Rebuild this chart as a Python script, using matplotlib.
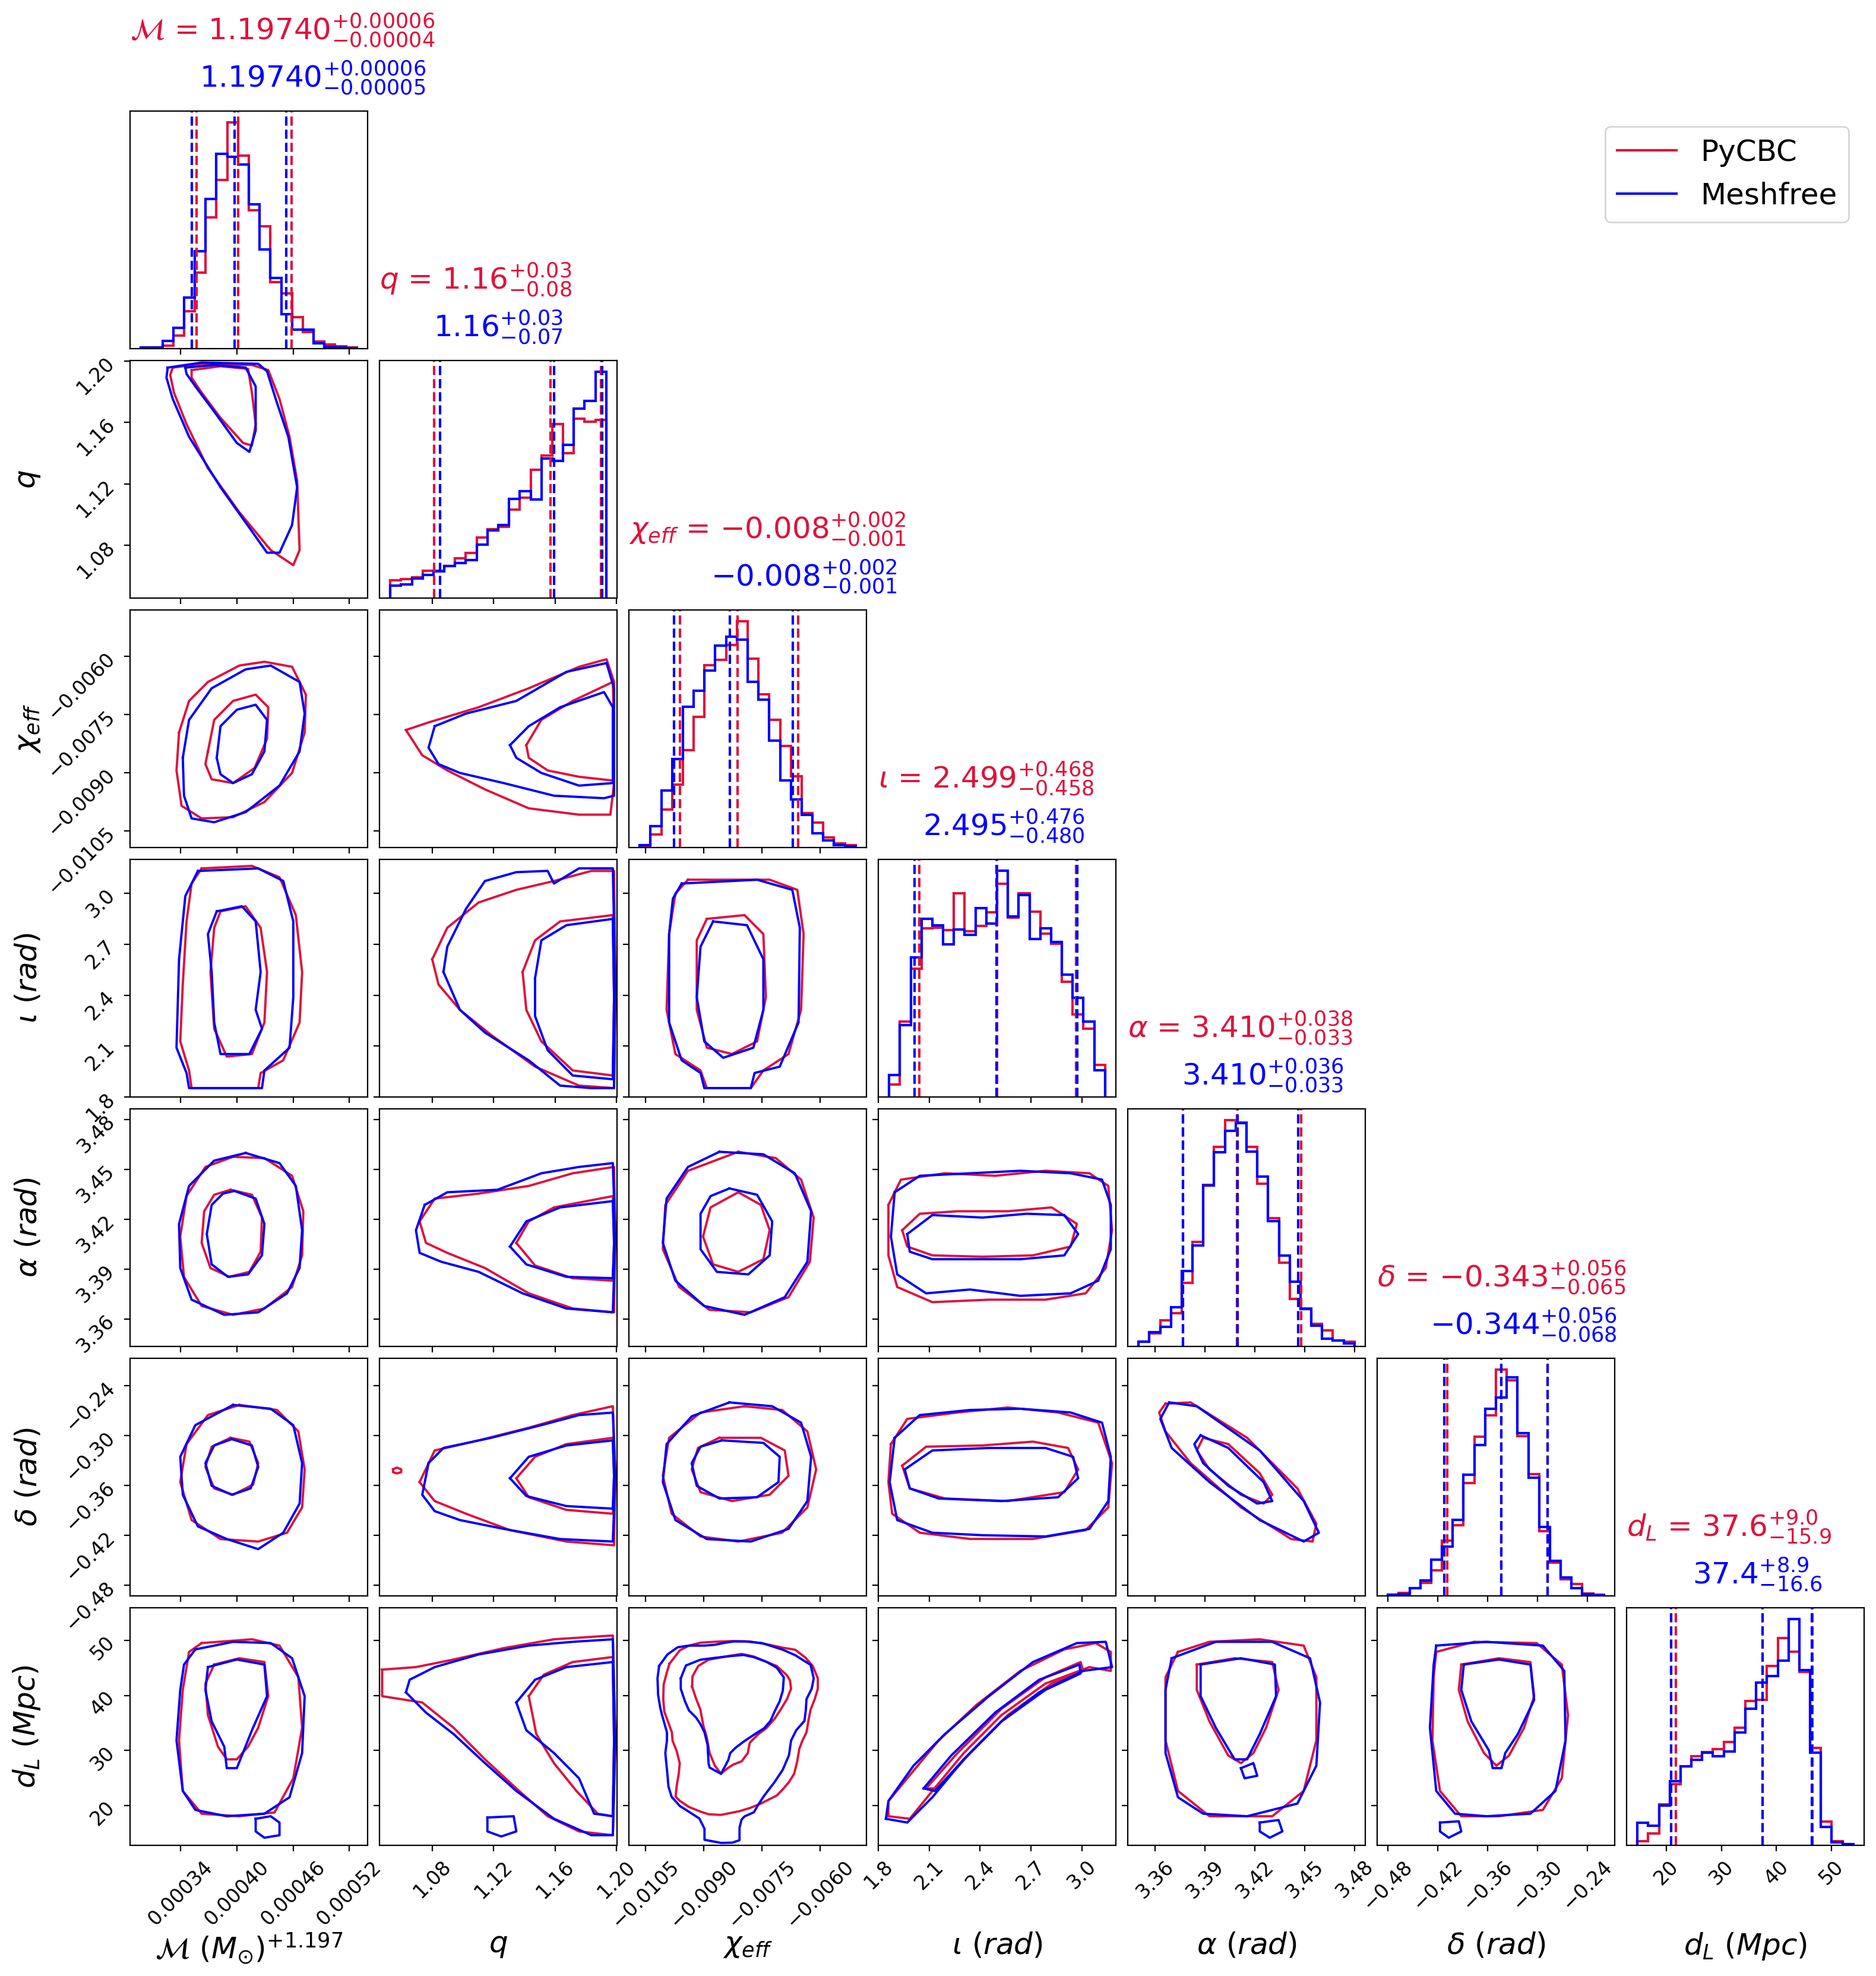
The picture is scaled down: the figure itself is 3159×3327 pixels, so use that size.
import numpy as np
import matplotlib
matplotlib.use("Agg")
import matplotlib.pyplot as plt
from matplotlib.lines import Line2D
from matplotlib.ticker import FixedLocator, FixedFormatter, NullLocator

plt.rcParams['font.family'] = ['DejaVu Sans']
plt.rcParams['mathtext.fontset'] = 'dejavusans'

RED = '#DC143C'
BLUE = '#0000FF'

# ---------------- data ----------------
# chirp mass stored as offset from 1.197 in units of 1e-6 Msun, chi_eff in units of 1e-4
params = ['mc', 'q', 'chi', 'iota', 'alpha', 'delta', 'dl']

range_mc = (297.7, 527.9)
range_q = (1.0527, 1.1932)
range_chi = (-106.56, -50.77)
range_iota = (1.8635, 3.1365)
range_alpha = (3.3501, 3.4798)
range_delta = (-0.4796, -0.2202)
range_dl = (14.69, 53.98)

ticks_mc = [340, 400, 460, 520]
ticklabels_mc = ['0.00034', '0.00040', '0.00046', '0.00052']
ticks_q = [1.08, 1.12, 1.16, 1.20]
ticklabels_q = ['1.08', '1.12', '1.16', '1.20']
ticks_chi = [-105, -90, -75, -60]
ticklabels_chi = ['\u22120.0105', '\u22120.0090', '\u22120.0075', '\u22120.0060']
ticks_iota = [1.8, 2.1, 2.4, 2.7, 3.0]
ticklabels_iota = ['1.8', '2.1', '2.4', '2.7', '3.0']
ticks_alpha = [3.36, 3.39, 3.42, 3.45, 3.48]
ticklabels_alpha = ['3.36', '3.39', '3.42', '3.45', '3.48']
ticks_delta = [-0.48, -0.42, -0.36, -0.30, -0.24]
ticklabels_delta = ['\u22120.48', '\u22120.42', '\u22120.36', '\u22120.30', '\u22120.24']
ticks_dl = [20, 30, 40, 50]
ticklabels_dl = ['20', '30', '40', '50']

axis_labels = [r'$\mathcal{M}\ (M_{\odot})^{+1.197}$', r'$q$', r'$\chi_{eff}$',
               r'$\iota\ (rad)$', r'$\alpha\ (rad)$', r'$\delta\ (rad)$', r'$d_L\ (Mpc)$']

titles_pycbc = [r'$\mathcal{M}$ = $1.19740^{+0.00006}_{-0.00004}$',
                r'$q$ = $1.16^{+0.03}_{-0.08}$',
                r'$\chi_{eff}$ = $-0.008^{+0.002}_{-0.001}$',
                r'$\iota$ = $2.499^{+0.468}_{-0.458}$',
                r'$\alpha$ = $3.410^{+0.038}_{-0.033}$',
                r'$\delta$ = $-0.343^{+0.056}_{-0.065}$',
                r'$d_L$ = $37.6^{+9.0}_{-15.9}$']
titles_meshfree = [r'$1.19740^{+0.00006}_{-0.00005}$',
                   r'$1.16^{+0.03}_{-0.07}$',
                   r'$-0.008^{+0.002}_{-0.001}$',
                   r'$2.495^{+0.476}_{-0.480}$',
                   r'$3.410^{+0.036}_{-0.033}$',
                   r'$-0.344^{+0.056}_{-0.068}$',
                   r'$37.4^{+8.9}_{-16.6}$']

# 1D histograms (20 bins over the sample range), relative heights
hist_mc_pycbc = [4, 4, 12, 57, 164, 335, 577, 742, 994, 847, 607, 537, 292, 242, 137, 72, 32, 17, 10, 4]
hist_mc_meshfree = [4, 4, 35, 92, 225, 427, 657, 855, 842, 810, 634, 437, 310, 152, 84, 84, 24, 7, 4, 2]
hist_q_pycbc = [77, 84, 92, 119, 119, 142, 174, 197, 267, 302, 314, 389, 442, 564, 627, 764, 637, 787, 775, 782]
hist_q_meshfree = [54, 60, 87, 102, 117, 142, 154, 167, 235, 297, 322, 435, 470, 432, 614, 602, 674, 832, 867, 994]
hist_chi_pycbc = [4, 57, 167, 277, 427, 574, 800, 824, 890, 994, 829, 674, 562, 447, 314, 152, 110, 44, 17, 10]
hist_chi_meshfree = [10, 95, 250, 390, 619, 690, 777, 887, 927, 914, 729, 649, 470, 295, 212, 144, 62, 32, 10, 4]
hist_iota_pycbc = [54, 332, 564, 742, 744, 732, 895, 727, 752, 812, 937, 787, 895, 814, 717, 674, 507, 362, 300, 142]
hist_iota_meshfree = [97, 317, 614, 782, 754, 670, 737, 712, 830, 762, 994, 794, 887, 694, 742, 682, 537, 437, 332, 117]
hist_alpha_pycbc = [20, 57, 114, 147, 279, 460, 709, 877, 994, 984, 877, 714, 564, 367, 210, 167, 100, 70, 27, 20]
hist_alpha_meshfree = [20, 62, 87, 172, 332, 444, 707, 852, 947, 980, 855, 747, 550, 399, 284, 165, 92, 35, 27, 12]
hist_delta_pycbc = [4, 14, 35, 57, 112, 242, 310, 497, 699, 794, 994, 947, 702, 534, 284, 147, 72, 52, 10, 4]
hist_delta_meshfree = [4, 7, 35, 67, 160, 217, 334, 532, 664, 822, 872, 960, 714, 520, 302, 154, 82, 35, 7, 2]
hist_dl_pycbc = [17, 52, 180, 270, 347, 392, 410, 424, 454, 517, 634, 640, 787, 910, 850, 762, 427, 104, 17, 4]
hist_dl_meshfree = [100, 85, 174, 282, 347, 377, 407, 392, 412, 497, 599, 714, 744, 812, 994, 770, 407, 82, 14, 4]

# 16th / 50th / 84th percentiles
quant_mc_pycbc = [356.9, 401.2, 458.6]
quant_mc_meshfree = [352.0, 397.6, 452.9]
quant_q_pycbc = [1.0811, 1.1568, 1.1899]
quant_q_meshfree = [1.0850, 1.1592, 1.1906]
quant_chi_pycbc = [-96.16, -81.32, -65.67]
quant_chi_meshfree = [-97.69, -83.27, -67.05]
quant_iota_pycbc = [2.041, 2.499, 2.967]
quant_iota_meshfree = [2.015, 2.495, 2.971]
quant_alpha_pycbc = [3.3769, 3.4092, 3.4477]
quant_alpha_meshfree = [3.3769, 3.4096, 3.4461]
quant_delta_pycbc = [-0.4082, -0.3435, -0.2876]
quant_delta_meshfree = [-0.4122, -0.3435, -0.2876]
quant_dl_pycbc = [21.66, 37.51, 46.58]
quant_dl_meshfree = [20.83, 37.51, 46.41]

# 2D credible contours (x = column parameter, y = row parameter)
cont_q_mc_pycbc = [
    [(331.7, 1.1956), (362.5, 1.1981), (416.1, 1.1973), (433.5, 1.1940), (445.5, 1.1752), (456.2, 1.1506), (464.3, 1.1219), (465.6, 1.0990), (466.9, 1.0769), (460.2, 1.0671), (436.1, 1.0769), (402.7, 1.1015), (369.2, 1.1301), (346.4, 1.1588), (333.0, 1.1793), (329.0, 1.1908)],
    [(351.8, 1.1940), (382.6, 1.1965), (412.0, 1.1948), (416.1, 1.1793), (420.1, 1.1588), (416.1, 1.1449), (406.7, 1.1466), (382.6, 1.1629), (362.5, 1.1793), (351.8, 1.1891)]]
cont_q_mc_meshfree = [
    [(326.3, 1.1956), (362.5, 1.1989), (422.8, 1.1981), (432.2, 1.1932), (442.8, 1.1727), (454.9, 1.1506), (464.3, 1.1178), (458.9, 1.0932), (445.5, 1.0752), (432.2, 1.0752), (416.1, 1.0891), (382.6, 1.1178), (349.1, 1.1506), (331.7, 1.1752), (325.0, 1.1891)],
    [(345.1, 1.1956), (375.9, 1.1973), (409.4, 1.1956), (420.1, 1.1834), (420.1, 1.1547), (413.4, 1.1408), (400.0, 1.1466), (375.9, 1.1670), (355.8, 1.1834), (346.4, 1.1915)]]

cont_chi_mc_pycbc = [
    [(338.4, -79.64), (349.1, -71.48), (369.2, -66.58), (402.7, -62.34), (429.4, -61.36), (458.9, -62.66), (473.6, -69.85), (472.3, -79.64), (458.9, -90.08), (429.4, -97.59), (396.0, -101.51), (362.5, -101.83), (341.1, -98.57), (335.7, -89.43)],
    [(369.2, -84.53), (375.9, -76.37), (396.0, -71.48), (420.1, -69.85), (433.5, -73.11), (432.2, -81.27), (419.0, -88.78), (396.0, -92.70), (373.2, -91.72), (366.5, -87.80)]]
cont_chi_mc_meshfree = [
    [(342.4, -86.17), (349.1, -76.37), (373.2, -68.21), (409.4, -63.32), (436.1, -62.34), (466.9, -66.58), (472.3, -74.74), (466.9, -84.53), (445.5, -93.34), (409.4, -100.20), (375.9, -102.82), (351.8, -101.83), (343.7, -95.95)],
    [(378.6, -86.17), (382.6, -78.01), (400.0, -73.76), (420.1, -72.46), (432.2, -76.37), (429.4, -84.53), (416.1, -90.41), (396.0, -92.70), (382.6, -90.41)]]

cont_iota_mc_pycbc = [
    [(362.5, 3.147), (416.1, 3.162), (445.5, 3.095), (462.9, 2.872), (469.6, 2.537), (466.9, 2.239), (449.5, 2.016), (425.4, 1.941), (422.8, 1.852), (351.8, 1.852), (349.1, 1.956), (339.7, 2.128), (342.4, 2.463), (346.4, 2.835), (351.8, 3.058)],
    [(382.6, 2.894), (409.4, 2.924), (425.4, 2.797), (432.2, 2.537), (429.4, 2.239), (416.1, 2.053), (389.3, 2.038), (375.9, 2.202), (371.9, 2.537), (375.9, 2.797)]]
cont_iota_mc_meshfree = [
    [(358.5, 3.132), (422.8, 3.147), (449.5, 3.073), (460.2, 2.835), (460.2, 2.388), (456.2, 2.090), (429.4, 1.956), (426.8, 1.852), (349.1, 1.852), (346.4, 1.941), (335.7, 2.090), (338.4, 2.611), (345.1, 2.984)],
    [(378.6, 2.894), (405.4, 2.924), (420.1, 2.835), (425.4, 2.537), (420.1, 2.314), (426.8, 2.202), (413.4, 2.053), (382.6, 2.053), (375.9, 2.239), (373.2, 2.537), (369.2, 2.760)]]

cont_alpha_mc_pycbc = [
    [(396.0, 3.4575), (429.4, 3.4567), (458.9, 3.4461), (470.9, 3.4248), (469.6, 3.3983), (458.9, 3.3793), (429.4, 3.3664), (396.0, 3.3626), (362.5, 3.3679), (343.7, 3.3853), (339.7, 3.4096), (346.4, 3.4339), (366.5, 3.4514)],
    [(393.3, 3.4377), (416.1, 3.4347), (426.8, 3.4210), (425.4, 3.4005), (413.4, 3.3884), (392.0, 3.3854), (371.9, 3.3907), (362.5, 3.4058), (365.2, 3.4248), (375.9, 3.4347)]]
cont_alpha_mc_meshfree = [
    [(409.4, 3.4598), (445.5, 3.4537), (462.9, 3.4400), (469.6, 3.4134), (466.9, 3.3907), (453.5, 3.3755), (422.8, 3.3641), (386.6, 3.3626), (351.8, 3.3717), (339.7, 3.3907), (338.4, 3.4172), (349.1, 3.4400), (375.9, 3.4552)],
    [(397.3, 3.4370), (420.1, 3.4324), (429.4, 3.4172), (426.8, 3.3983), (412.0, 3.3869), (390.6, 3.3854), (373.2, 3.3929), (368.0, 3.4111), (373.2, 3.4286), (385.3, 3.4354)]]

cont_delta_mc_pycbc = [
    [(402.7, -0.2632), (442.8, -0.2693), (465.6, -0.2951), (472.3, -0.3407), (469.6, -0.3863), (453.5, -0.4167), (422.8, -0.4273), (382.6, -0.4243), (351.8, -0.4015), (339.7, -0.3559), (346.4, -0.3103), (369.2, -0.2754)],
    [(393.3, -0.3027), (413.4, -0.3073), (422.8, -0.3331), (417.4, -0.3589), (396.0, -0.3711), (375.9, -0.3635), (366.5, -0.3377), (373.2, -0.3134)]]
cont_delta_mc_meshfree = [
    [(396.0, -0.2632), (436.1, -0.2678), (460.2, -0.2875), (469.6, -0.3331), (466.9, -0.3817), (449.5, -0.4167), (422.8, -0.4364), (389.3, -0.4243), (358.5, -0.4091), (342.4, -0.3711), (339.7, -0.3255), (355.8, -0.2875)],
    [(394.6, -0.3043), (416.1, -0.3119), (422.8, -0.3377), (414.7, -0.3635), (394.6, -0.3711), (373.2, -0.3604), (366.5, -0.3331), (375.9, -0.3119)]]

cont_dl_mc_pycbc = [
    [(362.5, 49.52), (416.1, 50.21), (445.5, 49.06), (465.6, 43.31), (469.6, 34.12), (460.2, 24.92), (440.2, 18.71), (402.7, 18.02), (362.5, 18.48), (342.4, 22.62), (338.4, 31.82), (342.4, 41.01), (349.1, 47.91)],
    [(375.9, 45.61), (402.7, 46.76), (429.4, 46.07), (433.5, 39.86), (422.8, 34.12), (412.0, 30.67), (400.0, 28.37), (389.3, 28.37), (379.9, 30.67), (369.2, 36.42), (366.5, 42.16)]]
cont_dl_mc_meshfree = [
    [(355.8, 48.37), (396.0, 49.75), (436.1, 49.52), (458.9, 46.76), (472.3, 39.86), (469.6, 29.52), (456.2, 21.47), (429.4, 18.48), (389.3, 18.02), (355.8, 19.17), (342.4, 22.62), (335.7, 31.82), (339.7, 41.01), (343.7, 45.61)],
    [(369.2, 45.15), (400.0, 46.53), (429.4, 45.61), (432.2, 39.86), (416.1, 33.66), (405.4, 29.06), (400.0, 26.77), (389.3, 26.77), (386.6, 30.67), (373.2, 35.27), (366.5, 41.01)],
    [(420.1, 17.56), (436.1, 18.02), (445.5, 16.87), (445.5, 14.57), (429.4, 14.11), (420.1, 15.26)]]

cont_chi_q_pycbc = [
    [(1.0629, -78.99), (1.0776, -77.03), (1.1102, -73.11), (1.1428, -68.21), (1.1755, -62.67), (1.1934, -60.71), (1.1983, -66.58), (1.1983, -92.70), (1.1959, -100.86), (1.1755, -100.86), (1.1428, -99.22), (1.1143, -94.33), (1.0898, -89.43), (1.0735, -85.51)],
    [(1.1412, -82.90), (1.1510, -76.37), (1.1714, -71.48), (1.1975, -66.58), (1.1983, -79.64), (1.1975, -92.05), (1.1755, -91.07), (1.1551, -89.43), (1.1428, -86.17)]]
cont_chi_q_meshfree = [
    [(1.0816, -78.01), (1.1020, -74.74), (1.1347, -71.48), (1.1673, -63.97), (1.1934, -61.69), (1.1983, -68.21), (1.1983, -95.96), (1.1918, -96.61), (1.1592, -95.96), (1.1265, -92.70), (1.0980, -90.08), (1.0841, -87.80), (1.0776, -83.56)],
    [(1.1306, -82.90), (1.1428, -78.01), (1.1632, -73.11), (1.1918, -69.19), (1.1975, -73.11), (1.1975, -92.70), (1.1755, -93.35), (1.1510, -90.08), (1.1347, -86.17)]]

cont_iota_q_pycbc = [
    [(1.0800, 2.6114), (1.0898, 2.7975), (1.1102, 2.9464), (1.1347, 3.0208), (1.1592, 3.0729), (1.1836, 3.1325), (1.1983, 3.1325), (1.1991, 2.4625), (1.1983, 1.8521), (1.1755, 1.8670), (1.1469, 1.9787), (1.1184, 2.1648), (1.0980, 2.3136), (1.0841, 2.4625)],
    [(1.1388, 2.5370), (1.1469, 2.7231), (1.1632, 2.8347), (1.1975, 2.8719), (1.1983, 2.3881), (1.1975, 1.9265), (1.1714, 1.9563), (1.1510, 2.1275), (1.1412, 2.3136)]]
cont_iota_q_meshfree = [
    [(1.0873, 2.5370), (1.0898, 2.6858), (1.1020, 2.9092), (1.1143, 3.0729), (1.1347, 3.1250), (1.1551, 3.1325), (1.1592, 3.0580), (1.1755, 3.1474), (1.1975, 3.1474), (1.1991, 2.4625), (1.1983, 1.8521), (1.1836, 1.8521), (1.1632, 1.8670), (1.1428, 2.0159), (1.1143, 2.1796), (1.0980, 2.3136)],
    [(1.1469, 2.4997), (1.1510, 2.7231), (1.1673, 2.8124), (1.1975, 2.8496), (1.1983, 2.3881), (1.1975, 1.9042), (1.1714, 1.9265), (1.1551, 2.0754), (1.1469, 2.2764)]]

cont_alpha_q_pycbc = [
    [(1.0718, 3.4187), (1.0816, 3.4324), (1.1102, 3.4354), (1.1428, 3.4400), (1.1714, 3.4476), (1.1983, 3.4514), (1.1991, 3.4096), (1.1983, 3.3641), (1.1714, 3.3664), (1.1428, 3.3755), (1.1143, 3.3907), (1.0898, 3.3998), (1.0759, 3.4058)],
    [(1.1347, 3.4058), (1.1428, 3.4187), (1.1592, 3.4271), (1.1975, 3.4339), (1.1983, 3.4058), (1.1975, 3.3831), (1.1714, 3.3846), (1.1469, 3.3922)]]
cont_alpha_q_meshfree = [
    [(1.0751, 3.4286), (1.0898, 3.4362), (1.1224, 3.4377), (1.1510, 3.4476), (1.1755, 3.4514), (1.1975, 3.4537), (1.1991, 3.4096), (1.1975, 3.3641), (1.1673, 3.3664), (1.1388, 3.3755), (1.1102, 3.3884), (1.0857, 3.3945), (1.0718, 3.3998), (1.0694, 3.4134)],
    [(1.1306, 3.4036), (1.1412, 3.4187), (1.1632, 3.4271), (1.1975, 3.4309), (1.1983, 3.4058), (1.1975, 3.3846), (1.1673, 3.3854), (1.1412, 3.3929)]]

cont_delta_q_pycbc = [
    [(1.0718, -0.3559), (1.0816, -0.3179), (1.1102, -0.3058), (1.1428, -0.2906), (1.1714, -0.2754), (1.1975, -0.2648), (1.1991, -0.3483), (1.1983, -0.4318), (1.1673, -0.4273), (1.1306, -0.4136), (1.1020, -0.3939), (1.0816, -0.3787)],
    [(1.1347, -0.3513), (1.1469, -0.3255), (1.1673, -0.3103), (1.1975, -0.3027), (1.1983, -0.3483), (1.1975, -0.3939), (1.1673, -0.3893), (1.1428, -0.3741)],
    [(1.0545, -0.3405), (1.0570, -0.3385), (1.0598, -0.3405), (1.0598, -0.3440), (1.0570, -0.3455), (1.0545, -0.3440)]]
cont_delta_q_meshfree = [
    [(1.0776, -0.3331), (1.0873, -0.3149), (1.1184, -0.3027), (1.1510, -0.2875), (1.1755, -0.2754), (1.1975, -0.2724), (1.1991, -0.3483), (1.1975, -0.4273), (1.1632, -0.4243), (1.1265, -0.4121), (1.0980, -0.4015), (1.0816, -0.3908), (1.0735, -0.3711)],
    [(1.1306, -0.3513), (1.1428, -0.3255), (1.1673, -0.3119), (1.1975, -0.3058), (1.1983, -0.3483), (1.1975, -0.3878), (1.1673, -0.3847), (1.1412, -0.3726)]]

cont_dl_q_pycbc = [
    [(1.0474, 44.69), (1.0694, 45.15), (1.0939, 46.53), (1.1265, 48.60), (1.1592, 50.21), (1.1975, 50.90), (1.1991, 31.82), (1.1975, 14.57), (1.1755, 15.26), (1.1551, 18.02), (1.1347, 23.08), (1.1143, 28.37), (1.0939, 34.12), (1.0735, 38.71), (1.0474, 39.86)],
    [(1.1428, 39.86), (1.1526, 43.77), (1.1714, 46.07), (1.1975, 46.99), (1.1983, 31.82), (1.1975, 18.02), (1.1877, 18.48), (1.1738, 22.62), (1.1592, 27.68), (1.1477, 32.97)]]
cont_dl_q_meshfree = [
    [(1.0629, 40.55), (1.0653, 42.85), (1.0816, 45.15), (1.1102, 47.45), (1.1428, 49.06), (1.1714, 49.75), (1.1975, 50.21), (1.1991, 31.82), (1.1975, 14.57), (1.1836, 14.57), (1.1592, 17.56), (1.1347, 22.62), (1.1143, 27.68), (1.0939, 32.97), (1.0759, 36.88)],
    [(1.1347, 38.71), (1.1469, 42.85), (1.1673, 45.15), (1.1975, 46.07), (1.1983, 31.82), (1.1975, 18.02), (1.1853, 18.48), (1.1755, 24.92), (1.1592, 29.52), (1.1412, 33.66)],
    [(1.1159, 17.79), (1.1330, 18.02), (1.1347, 15.26), (1.1249, 14.34), (1.1159, 15.26)]]

cont_iota_chi_pycbc = [
    [(-94.09, 3.0804), (-72.98, 3.0804), (-65.84, 3.0208), (-64.22, 2.7603), (-64.87, 2.3136), (-68.11, 2.0531), (-74.61, 1.9563), (-77.85, 1.8521), (-89.22, 1.8521), (-90.84, 1.9563), (-97.34, 2.0531), (-99.61, 2.3136), (-98.96, 2.7603), (-97.34, 2.9985)],
    [(-89.22, 2.8496), (-79.48, 2.8719), (-74.61, 2.7603), (-73.96, 2.3881), (-76.23, 2.1275), (-82.73, 2.0531), (-89.22, 2.0903), (-91.82, 2.3136), (-91.82, 2.7231)]]
cont_iota_chi_meshfree = [
    [(-95.71, 3.0580), (-76.23, 3.0804), (-67.14, 3.0208), (-65.19, 2.7975), (-65.52, 2.2392), (-70.39, 1.9787), (-76.88, 1.9414), (-77.85, 1.8521), (-89.87, 1.8521), (-90.84, 1.9414), (-95.71, 2.0159), (-98.96, 2.2392), (-98.96, 2.7603), (-97.99, 2.9687)],
    [(-87.60, 2.8347), (-78.83, 2.8124), (-74.61, 2.6114), (-74.61, 2.3136), (-77.20, 2.0903), (-84.98, 2.0308), (-89.87, 2.1275), (-91.82, 2.3881), (-90.84, 2.6858)]]

cont_alpha_chi_pycbc = [
    [(-81.10, 3.4605), (-71.38, 3.4567), (-64.87, 3.4438), (-61.62, 3.4210), (-62.59, 3.3945), (-68.11, 3.3732), (-77.85, 3.3641), (-88.57, 3.3656), (-96.36, 3.3793), (-100.58, 3.4020), (-99.94, 3.4286), (-94.09, 3.4491)],
    [(-81.10, 3.4362), (-75.26, 3.4286), (-72.98, 3.4134), (-74.61, 3.3960), (-81.10, 3.3884), (-87.60, 3.3929), (-90.19, 3.4096), (-88.25, 3.4271)]]
cont_alpha_chi_meshfree = [
    [(-85.98, 3.4605), (-74.61, 3.4590), (-66.49, 3.4476), (-62.27, 3.4248), (-63.24, 3.3945), (-69.09, 3.3732), (-79.48, 3.3626), (-89.87, 3.3679), (-97.34, 3.3831), (-100.58, 3.4058), (-99.61, 3.4324), (-94.09, 3.4514)],
    [(-83.38, 3.4385), (-76.23, 3.4347), (-72.33, 3.4187), (-72.98, 3.3983), (-78.50, 3.3869), (-86.62, 3.3884), (-90.84, 3.4020), (-90.84, 3.4233), (-88.25, 3.4339)]]

cont_delta_chi_pycbc = [
    [(-79.48, -0.2648), (-69.76, -0.2693), (-63.24, -0.2951), (-60.97, -0.3407), (-63.24, -0.3863), (-69.76, -0.4167), (-81.10, -0.4273), (-90.84, -0.4212), (-98.31, -0.3939), (-100.58, -0.3483), (-98.96, -0.3027), (-90.84, -0.2723)],
    [(-85.98, -0.3027), (-75.26, -0.3027), (-69.09, -0.3179), (-68.11, -0.3483), (-72.98, -0.3711), (-82.73, -0.3787), (-90.84, -0.3680), (-93.12, -0.3407), (-91.50, -0.3149)]]
cont_delta_chi_meshfree = [
    [(-83.38, -0.2602), (-72.33, -0.2648), (-64.87, -0.2845), (-62.27, -0.3255), (-63.24, -0.3787), (-68.11, -0.4121), (-77.85, -0.4273), (-89.22, -0.4243), (-97.34, -0.4015), (-100.58, -0.3559), (-99.61, -0.3103), (-93.12, -0.2769)],
    [(-85.33, -0.3058), (-74.61, -0.3088), (-70.39, -0.3255), (-70.71, -0.3559), (-76.23, -0.3741), (-85.98, -0.3756), (-91.82, -0.3604), (-93.12, -0.3331), (-90.84, -0.3134)]]

cont_dl_chi_pycbc = [
    [(-98.88, 45.74), (-96.21, 48.19), (-93.82, 49.06), (-90.89, 49.59), (-86.63, 49.78), (-82.37, 49.89), (-78.11, 49.81), (-73.85, 49.32), (-69.59, 48.68), (-66.39, 48.31), (-63.73, 46.87), (-61.87, 45.36), (-60.54, 43.10), (-60.54, 41.21), (-61.34, 39.32), (-62.40, 37.44), (-62.93, 35.55), (-63.47, 33.28), (-64.53, 31.77), (-65.33, 30.27), (-65.86, 28.00), (-66.66, 25.74), (-67.99, 24.23), (-69.59, 22.91), (-71.19, 21.77), (-73.85, 20.83), (-75.45, 20.26), (-78.11, 19.51), (-80.77, 18.94), (-85.56, 18.26), (-88.76, 18.38), (-90.89, 18.87), (-93.82, 19.70), (-96.21, 20.83), (-97.28, 21.59), (-97.01, 23.47), (-96.48, 25.74), (-96.21, 27.62), (-97.01, 29.89), (-98.08, 31.77), (-98.24, 33.28), (-99.41, 35.55), (-100.21, 37.06), (-100.47, 39.32), (-100.37, 41.96), (-99.68, 43.85)],
    [(-93.02, 41.59), (-92.91, 43.47), (-91.42, 45.36), (-88.76, 46.49), (-84.50, 47.06), (-80.24, 47.55), (-77.04, 47.06), (-73.85, 46.12), (-71.19, 45.36), (-68.52, 43.66), (-67.73, 42.72), (-67.46, 41.21), (-68.52, 39.32), (-70.12, 37.44), (-71.72, 35.74), (-73.85, 34.04), (-75.98, 32.91), (-78.11, 31.40), (-78.64, 29.51), (-80.24, 28.00), (-82.37, 27.43), (-83.97, 26.68), (-85.56, 25.74), (-87.16, 27.25), (-88.49, 29.51), (-89.29, 32.53), (-90.09, 34.42), (-90.89, 37.44), (-91.95, 39.32)]]
cont_dl_chi_meshfree = [
    [(-101.54, 45.36), (-99.41, 47.44), (-96.75, 48.76), (-93.82, 49.06), (-89.82, 49.06), (-87.16, 49.21), (-84.50, 49.59), (-82.37, 49.81), (-79.17, 49.81), (-74.91, 49.51), (-69.59, 48.31), (-66.39, 47.32), (-62.40, 45.55), (-61.60, 43.10), (-62.13, 41.21), (-63.47, 39.32), (-63.63, 37.44), (-64.00, 35.36), (-66.13, 33.66), (-67.46, 31.77), (-67.99, 29.13), (-69.59, 26.49), (-71.72, 24.23), (-74.38, 21.77), (-75.98, 20.08), (-77.04, 18.75), (-79.44, 18.00), (-80.24, 17.43), (-80.77, 15.92), (-80.77, 13.66), (-82.63, 13.21), (-85.56, 13.17), (-89.82, 13.74), (-89.82, 15.74), (-91.16, 17.62), (-94.08, 18.94), (-96.21, 19.89), (-98.34, 21.59), (-99.14, 23.47), (-99.41, 25.74), (-99.94, 29.51), (-99.52, 31.77), (-99.52, 33.28), (-100.74, 36.30), (-101.27, 37.81), (-101.80, 40.08), (-101.96, 43.10)],
    [(-95.95, 43.10), (-94.62, 45.44), (-90.89, 46.49), (-86.63, 46.87), (-82.90, 47.17), (-79.71, 47.36), (-77.04, 46.95), (-73.85, 46.12), (-71.19, 45.06), (-69.32, 43.29), (-69.59, 40.83), (-70.39, 38.95), (-71.72, 37.06), (-72.78, 35.36), (-74.38, 34.04), (-76.51, 33.10), (-79.71, 31.59), (-81.84, 30.45), (-83.17, 29.51), (-83.70, 28.19), (-85.56, 25.74), (-88.49, 26.87), (-88.76, 27.62), (-89.03, 31.02), (-89.82, 33.28), (-90.89, 34.79), (-91.95, 35.93), (-93.82, 37.25), (-94.88, 38.95), (-95.95, 41.21)]]

cont_alpha_iota_pycbc = [
    [(1.8593, 3.4286), (1.9333, 3.4438), (2.1926, 3.4476), (2.4889, 3.4461), (2.7852, 3.4491), (3.0444, 3.4476), (3.1555, 3.4400), (3.1777, 3.4134), (3.1407, 3.3907), (3.0222, 3.3755), (2.7852, 3.3717), (2.4518, 3.3717), (2.1185, 3.3702), (1.9111, 3.3793), (1.8593, 3.3983)],
    [(1.9407, 3.4134), (2.0444, 3.4233), (2.2667, 3.4248), (2.5629, 3.4248), (2.8222, 3.4271), (2.9703, 3.4172), (2.9333, 3.4036), (2.7111, 3.3983), (2.4148, 3.3975), (2.1185, 3.3983), (1.9704, 3.4036)]]
cont_alpha_iota_meshfree = [
    [(1.8963, 3.4362), (2.0444, 3.4461), (2.3407, 3.4476), (2.6370, 3.4491), (2.9333, 3.4476), (3.1185, 3.4438), (3.1703, 3.4286), (3.1703, 3.4020), (3.0963, 3.3831), (2.9333, 3.3755), (2.6370, 3.3740), (2.3407, 3.3778), (2.0815, 3.3755), (1.9111, 3.3869), (1.8741, 3.4096)],
    [(1.9704, 3.4111), (2.1185, 3.4225), (2.4148, 3.4210), (2.6741, 3.4233), (2.8963, 3.4225), (2.9778, 3.4111), (2.8963, 3.3983), (2.6370, 3.3960), (2.3778, 3.3960), (2.1185, 3.3960), (1.9852, 3.4005)]]

cont_delta_iota_pycbc = [
    [(1.8741, -0.3103), (1.9704, -0.2800), (2.2667, -0.2723), (2.5629, -0.2663), (2.8593, -0.2723), (3.0963, -0.2845), (3.1777, -0.3331), (3.1555, -0.3863), (3.0222, -0.4136), (2.7111, -0.4242), (2.3407, -0.4242), (2.0444, -0.4167), (1.8815, -0.3939), (1.8593, -0.3559)],
    [(1.9407, -0.3361), (2.0815, -0.3134), (2.4148, -0.3119), (2.7111, -0.3073), (2.9185, -0.3149), (2.9778, -0.3407), (2.8963, -0.3680), (2.5629, -0.3787), (2.1926, -0.3756), (1.9852, -0.3635)]]
cont_delta_iota_meshfree = [
    [(1.8963, -0.3027), (2.0444, -0.2754), (2.3407, -0.2693), (2.6370, -0.2678), (2.9333, -0.2723), (3.1185, -0.2845), (3.1703, -0.3255), (3.1555, -0.3787), (3.0444, -0.4121), (2.7852, -0.4212), (2.4148, -0.4197), (2.1185, -0.4167), (1.9111, -0.4015), (1.8667, -0.3559)],
    [(1.9556, -0.3407), (2.1185, -0.3179), (2.4518, -0.3149), (2.7852, -0.3149), (2.9481, -0.3255), (2.9778, -0.3513), (2.8593, -0.3741), (2.5259, -0.3787), (2.1556, -0.3756), (1.9852, -0.3635)]]

cont_dl_iota_pycbc = [
    [(1.8593, 18.02), (1.8593, 20.78), (1.9704, 24.92), (2.1556, 31.82), (2.3778, 38.26), (2.6370, 44.46), (2.8963, 48.37), (3.0815, 49.52), (3.1703, 47.91), (3.1703, 44.46), (3.0444, 45.15), (2.7852, 42.16), (2.5259, 36.42), (2.3037, 29.52), (2.1185, 22.62), (1.9852, 17.56)],
    [(2.0815, 23.08), (2.2667, 29.52), (2.5259, 37.57), (2.7852, 43.31), (2.9926, 46.07), (3.0074, 44.46), (2.8222, 42.16), (2.5629, 36.42), (2.3407, 29.52), (2.1556, 23.08)]]
cont_dl_iota_meshfree = [
    [(1.8444, 17.56), (1.8593, 20.78), (2.0074, 27.22), (2.1926, 32.97), (2.4518, 39.86), (2.7111, 46.07), (2.9703, 49.52), (3.1407, 49.75), (3.1777, 45.15), (3.0074, 44.46), (2.7481, 40.55), (2.5259, 35.27), (2.3037, 28.37), (2.1185, 21.47), (1.9704, 16.87)],
    [(2.0667, 23.08), (2.2296, 29.06), (2.4889, 36.88), (2.7481, 42.85), (2.9852, 45.61), (2.9926, 44.00), (2.7852, 41.01), (2.5259, 35.27), (2.3037, 28.37), (2.1333, 22.62)]]

cont_delta_alpha_pycbc = [
    [(3.3663, -0.2617), (3.3814, -0.2602), (3.4153, -0.3027), (3.4455, -0.3635), (3.4569, -0.4060), (3.4546, -0.4273), (3.4418, -0.4243), (3.4116, -0.3863), (3.3814, -0.3331), (3.3663, -0.2951), (3.3625, -0.2723)],
    [(3.3889, -0.3027), (3.4040, -0.3103), (3.4229, -0.3452), (3.4304, -0.3711), (3.4252, -0.3817), (3.4116, -0.3711), (3.3927, -0.3407), (3.3851, -0.3179)]]
cont_delta_alpha_meshfree = [
    [(3.3685, -0.2602), (3.3851, -0.2648), (3.4229, -0.3179), (3.4493, -0.3787), (3.4584, -0.4167), (3.4493, -0.4273), (3.4229, -0.4015), (3.3927, -0.3559), (3.3700, -0.3149), (3.3632, -0.2800)],
    [(3.3874, -0.2997), (3.4040, -0.3149), (3.4252, -0.3559), (3.4304, -0.3787), (3.4214, -0.3817), (3.4040, -0.3604), (3.3889, -0.3331), (3.3836, -0.3103)]]

cont_dl_alpha_pycbc = [
    [(3.3738, 47.91), (3.3927, 49.75), (3.4229, 50.21), (3.4493, 49.06), (3.4569, 43.31), (3.4569, 31.82), (3.4493, 22.62), (3.4304, 18.02), (3.3927, 18.02), (3.3738, 22.62), (3.3663, 31.82), (3.3663, 43.31)],
    [(3.3851, 45.61), (3.4078, 46.76), (3.4304, 46.07), (3.4342, 41.01), (3.4267, 34.12), (3.4191, 29.52), (3.4116, 27.68), (3.4040, 29.06), (3.3927, 35.27), (3.3851, 41.01)]]
cont_dl_alpha_meshfree = [
    [(3.3700, 46.76), (3.3965, 49.75), (3.4304, 49.75), (3.4531, 46.76), (3.4591, 38.71), (3.4569, 27.22), (3.4455, 20.32), (3.4153, 18.02), (3.3889, 18.48), (3.3738, 21.47), (3.3663, 29.52), (3.3663, 41.01)],
    [(3.3874, 45.61), (3.4116, 46.76), (3.4320, 45.61), (3.4327, 39.86), (3.4229, 32.97), (3.4153, 28.37), (3.4078, 28.37), (3.3965, 34.12), (3.3874, 39.86)],
    [(3.4229, 16.87), (3.4342, 17.33), (3.4365, 15.26), (3.4289, 14.11), (3.4229, 15.26)],
    [(3.4116, 26.76), (3.4191, 27.68), (3.4214, 25.38), (3.4138, 24.92)]]

cont_dl_delta_pycbc = [
    [(-0.4216, 47.91), (-0.3764, 49.75), (-0.3010, 49.52), (-0.2708, 45.61), (-0.2633, 36.42), (-0.2708, 24.92), (-0.2935, 19.17), (-0.3462, 18.02), (-0.3915, 18.02), (-0.4171, 22.62), (-0.4262, 31.82), (-0.4247, 43.31)],
    [(-0.3915, 45.61), (-0.3462, 46.76), (-0.3085, 46.07), (-0.3040, 39.86), (-0.3161, 34.12), (-0.3342, 29.06), (-0.3493, 27.22), (-0.3643, 29.52), (-0.3839, 35.27), (-0.3945, 41.01)]]
cont_dl_delta_meshfree = [
    [(-0.4216, 49.06), (-0.3613, 49.75), (-0.2935, 49.06), (-0.2678, 44.46), (-0.2663, 31.82), (-0.2784, 22.62), (-0.3085, 18.48), (-0.3613, 18.02), (-0.3990, 18.48), (-0.4216, 22.62), (-0.4292, 34.12), (-0.4247, 45.61)],
    [(-0.3885, 45.61), (-0.3462, 46.53), (-0.3085, 45.61), (-0.3040, 39.17), (-0.3236, 32.97), (-0.3387, 29.52), (-0.3432, 26.77), (-0.3538, 26.77), (-0.3583, 29.98), (-0.3794, 35.27), (-0.3915, 41.01)],
    [(-0.4171, 16.87), (-0.3945, 17.10), (-0.3915, 15.26), (-0.4066, 14.11), (-0.4171, 15.26)]]

# ---------------- tables built from the named data ----------------
ranges = [range_mc, range_q, range_chi, range_iota, range_alpha, range_delta, range_dl]
ticks = [ticks_mc, ticks_q, ticks_chi, ticks_iota, ticks_alpha, ticks_delta, ticks_dl]
ticklabels = [ticklabels_mc, ticklabels_q, ticklabels_chi, ticklabels_iota,
              ticklabels_alpha, ticklabels_delta, ticklabels_dl]
hists = [(hist_mc_pycbc, hist_mc_meshfree), (hist_q_pycbc, hist_q_meshfree),
         (hist_chi_pycbc, hist_chi_meshfree), (hist_iota_pycbc, hist_iota_meshfree),
         (hist_alpha_pycbc, hist_alpha_meshfree), (hist_delta_pycbc, hist_delta_meshfree),
         (hist_dl_pycbc, hist_dl_meshfree)]
quants = [(quant_mc_pycbc, quant_mc_meshfree), (quant_q_pycbc, quant_q_meshfree),
          (quant_chi_pycbc, quant_chi_meshfree), (quant_iota_pycbc, quant_iota_meshfree),
          (quant_alpha_pycbc, quant_alpha_meshfree), (quant_delta_pycbc, quant_delta_meshfree),
          (quant_dl_pycbc, quant_dl_meshfree)]
contours = {
    (1, 0): (cont_q_mc_pycbc, cont_q_mc_meshfree),
    (2, 0): (cont_chi_mc_pycbc, cont_chi_mc_meshfree),
    (3, 0): (cont_iota_mc_pycbc, cont_iota_mc_meshfree),
    (4, 0): (cont_alpha_mc_pycbc, cont_alpha_mc_meshfree),
    (5, 0): (cont_delta_mc_pycbc, cont_delta_mc_meshfree),
    (6, 0): (cont_dl_mc_pycbc, cont_dl_mc_meshfree),
    (2, 1): (cont_chi_q_pycbc, cont_chi_q_meshfree),
    (3, 1): (cont_iota_q_pycbc, cont_iota_q_meshfree),
    (4, 1): (cont_alpha_q_pycbc, cont_alpha_q_meshfree),
    (5, 1): (cont_delta_q_pycbc, cont_delta_q_meshfree),
    (6, 1): (cont_dl_q_pycbc, cont_dl_q_meshfree),
    (3, 2): (cont_iota_chi_pycbc, cont_iota_chi_meshfree),
    (4, 2): (cont_alpha_chi_pycbc, cont_alpha_chi_meshfree),
    (5, 2): (cont_delta_chi_pycbc, cont_delta_chi_meshfree),
    (6, 2): (cont_dl_chi_pycbc, cont_dl_chi_meshfree),
    (4, 3): (cont_alpha_iota_pycbc, cont_alpha_iota_meshfree),
    (5, 3): (cont_delta_iota_pycbc, cont_delta_iota_meshfree),
    (6, 3): (cont_dl_iota_pycbc, cont_dl_iota_meshfree),
    (5, 4): (cont_delta_alpha_pycbc, cont_delta_alpha_meshfree),
    (6, 4): (cont_dl_alpha_pycbc, cont_dl_alpha_meshfree),
    (6, 5): (cont_dl_delta_pycbc, cont_dl_delta_meshfree),
}

# ---------------- figure ----------------
W, H, DPI = 3159, 3327, 200
FS = 18
TICK_FS = 12
LW_H = 1.5
LW_C = 1.4
K = len(params)

fig = plt.figure(figsize=(W / DPI, H / DPI), dpi=DPI)


def limits(k):
    lo, hi = ranges[k]
    pad = 0.05 * (hi - lo)
    return lo - pad, hi + pad


def rect(i, j):
    x0 = 219 + 420 * j
    ytop = 187 + 420 * i
    return [x0 / W, 1 - (ytop + 400) / H, 400 / W, 400 / H]


axes = {}
for i in range(K):
    for j in range(i + 1):
        ax = fig.add_axes(rect(i, j))
        axes[(i, j)] = ax
        ax.set_xlim(*limits(j))
        ax.xaxis.set_major_locator(FixedLocator(ticks[j]))
        ax.xaxis.set_major_formatter(FixedFormatter(ticklabels[j]))
        ax.tick_params(labelsize=TICK_FS)
        if i == j:
            lo, hi = ranges[j]
            edges = np.linspace(lo, hi, len(hists[j][0]) + 1)
            for vals, col in ((hists[j][0], RED), (hists[j][1], BLUE)):
                ax.stairs(vals, edges, color=col, lw=LW_H, baseline=0)
            for q, col in ((quants[j][0], RED), (quants[j][1], BLUE)):
                for v in q:
                    ax.axvline(v, color=col, ls='--', lw=LW_H)
            top = max(max(hists[j][0]), max(hists[j][1]))
            ax.set_ylim(0, 1.05 * top)
            ax.yaxis.set_major_locator(NullLocator())
        else:
            ax.set_ylim(*limits(i))
            ax.yaxis.set_major_locator(FixedLocator(ticks[i]))
            ax.yaxis.set_major_formatter(FixedFormatter(ticklabels[i]))
            for series, col in zip(contours[(i, j)], (RED, BLUE)):
                for poly in series:
                    xs = [p[0] for p in poly] + [poly[0][0]]
                    ys = [p[1] for p in poly] + [poly[0][1]]
                    ax.plot(xs, ys, color=col, lw=LW_C, solid_joinstyle='round')
            if j == 0:
                for lab in ax.get_yticklabels():
                    lab.set_rotation(45)
                ax.set_ylabel(axis_labels[i], fontsize=FS)
                ax.yaxis.set_label_coords(-0.37, 0.5)
            else:
                ax.tick_params(labelleft=False)
        if i == K - 1:
            for lab in ax.get_xticklabels():
                lab.set_rotation(45)
            ax.set_xlabel(axis_labels[j], fontsize=FS)
            ax.xaxis.set_label_coords(0.5, -0.36)
        else:
            ax.tick_params(labelbottom=False)

# titles on the diagonal
fig.canvas.draw()
renderer = fig.canvas.get_renderer()
for k in range(K):
    ax = axes[(k, k)]
    t = ax.text(0.0, 1.30, titles_pycbc[k], transform=ax.transAxes, ha='left',
                va='baseline', color=RED, fontsize=FS)
    bb = t.get_window_extent(renderer)
    xr = ax.transAxes.inverted().transform((bb.x1 - 15, bb.y0))[0]
    ax.text(xr, 1.10, titles_meshfree[k], transform=ax.transAxes, ha='right',
            va='baseline', color=BLUE, fontsize=FS)

handles = [Line2D([], [], color=RED, lw=LW_H), Line2D([], [], color=BLUE, lw=LW_H)]
fig.legend(handles, ['PyCBC', 'Meshfree'], loc='upper right',
           bbox_to_anchor=(3138 / W, 1 - 188 / H), fontsize=FS)

fig.savefig('out.png', dpi=DPI)
